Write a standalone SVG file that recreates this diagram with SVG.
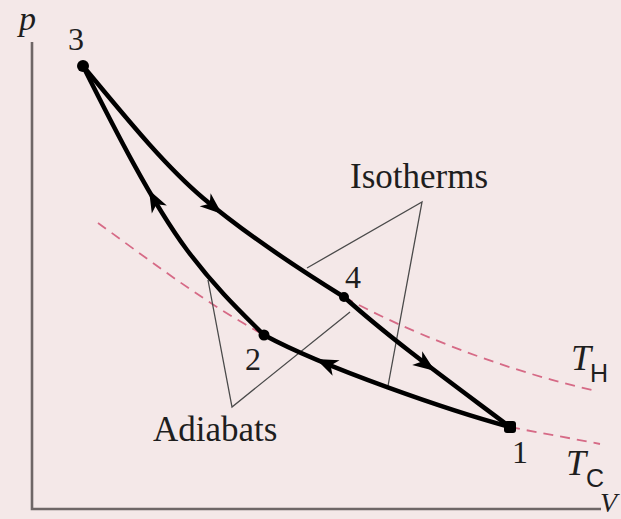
<svg xmlns="http://www.w3.org/2000/svg" width="621" height="519" viewBox="0 0 621 519">
<defs>
<style>
.bg{fill:#f4e8e8}
.axis{fill:none;stroke:#6e6666;stroke-width:2.6}
.proc{fill:none;stroke:#000;stroke-width:4.5;stroke-linecap:round}
.iso{fill:none;stroke:#d66a86;stroke-width:1.8;stroke-dasharray:10 7}
.lead{fill:none;stroke:#4a4a4a;stroke-width:1.3}
.dot{fill:#000}
.lbl{font-family:"Liberation Serif","Times New Roman",serif;fill:#1e1e1e}
.num{font-family:"Liberation Serif","Times New Roman",serif;font-size:32px;fill:#1e1e1e;text-anchor:middle}
.it{font-family:"Liberation Serif","Times New Roman",serif;font-style:italic;fill:#1e1e1e}
.sub{font-family:"Liberation Sans",Arial,sans-serif;fill:#1e1e1e}
</style>
<path id="ah" d="M0,0 L-22,-8.5 L-16,0 L-22,8.5 Z" fill="#000"/>
</defs>
<rect class="bg" x="0" y="0" width="621" height="519"/>
<g id="axes">
<path class="axis" d="M32,42 V509 H601"/>
<text class="it" x="19" y="30" font-size="34">p</text>
<text class="it" x="600" y="512" font-size="28">V</text>
</g>
<g id="isotherm-lines">
<path class="iso" d="M344,297 C400,328 500,370 597,391"/>
<path class="iso" d="M98,223 C140,253 200,300 264,335"/>
<path class="iso" d="M510,427 C540,433 570,438 600,444"/>
</g>
<g id="connectors">
<path class="lead" d="M307,268 L422,202 L388,386"/>
<path class="lead" d="M208,280 L232,407 L350,312"/>
<path id="c34" class="proc" d="M83,66 C123,114 163,164 203,198 C248,236 299,269 344,297"/>
<path id="c41" class="proc" d="M344,297 C394,342 461,390 510,427"/>
<path id="c12" class="proc" d="M510,427 C451,411 325,368 264,335"/>
<path id="c23" class="proc" d="M264,335 C244,315 217,290 187,250 C152,203 113,126 83,66"/>
<use href="#ah" transform="translate(222,214) rotate(40)"/>
<use href="#ah" transform="translate(435,371) rotate(36)"/>
<use href="#ah" transform="translate(316,359) rotate(204)"/>
<use href="#ah" transform="translate(149,190) rotate(242)"/>
</g>
<g id="node-3"><circle class="dot" cx="83" cy="66" r="6"/><text class="num" x="76" y="50">3</text></g>
<g id="node-4"><circle class="dot" cx="344" cy="297" r="5"/><text class="num" x="353" y="288">4</text></g>
<g id="node-2"><circle class="dot" cx="264" cy="335" r="5.5"/><text class="num" x="253" y="370">2</text></g>
<g id="node-1"><rect class="dot" x="504" y="421" width="12" height="12" rx="3"/><text class="num" x="520" y="463">1</text></g>
<g id="label-isotherms"><text class="lbl" x="350" y="188" font-size="35">Isotherms</text></g>
<g id="label-adiabats"><text class="lbl" x="153" y="441" font-size="35">Adiabats</text></g>
<g id="label-TH"><text class="it" x="571" y="370" font-size="36">T</text><text class="sub" x="590" y="382" font-size="25">H</text></g>
<g id="label-TC"><text class="it" x="566" y="475" font-size="36">T</text><text class="sub" x="586" y="487" font-size="25">C</text></g>
</svg>
